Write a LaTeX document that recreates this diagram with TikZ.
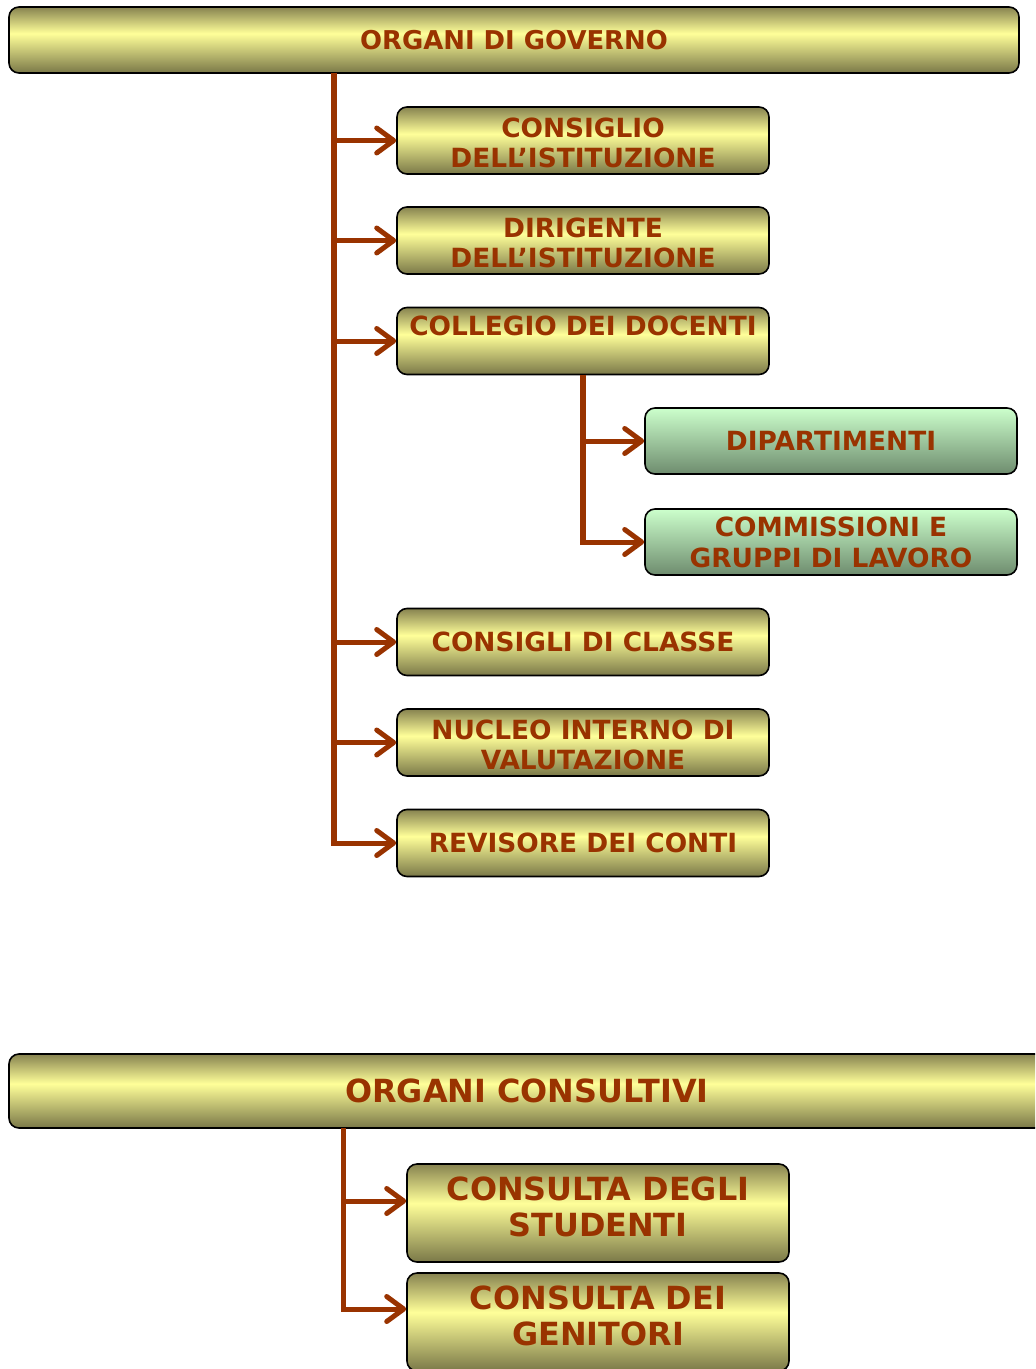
\documentclass[tikz,border=0pt]{standalone}
\usepackage{fontspec}
\setmainfont{DejaVu Sans}
\usetikzlibrary{arrows.meta}
\definecolor{txt}{RGB}{153,51,0}
\definecolor{olvt}{RGB}{135,131,80}
\definecolor{olvb}{RGB}{122,120,72}
\definecolor{ylw}{RGB}{255,255,153}
\definecolor{grtop}{RGB}{204,255,204}
\definecolor{grbot}{RGB}{110,140,110}
\pgfdeclareverticalshading{yshade}{100bp}{color(0bp)=(olvb); color(25bp)=(olvb); color(55bp)=(ylw); color(75bp)=(olvt); color(100bp)=(olvt)}
\tikzset{
  ybox/.style={rectangle, rounded corners=10bp, draw=black, line width=1.6bp,
    shading=yshade, text=txt,
    font=\fontsize{26.5}{30}\selectfont\bfseries, align=center, inner sep=0pt},
  gbox/.style={rectangle, rounded corners=10bp, draw=black, line width=1.6bp,
    top color=grtop, bottom color=grbot, text=txt,
    font=\fontsize{26.5}{31}\selectfont\bfseries, align=center, inner sep=0pt,
    minimum width=372bp, minimum height=66bp},
  sbox/.style={ybox, minimum width=372bp, minimum height=67bp},
  bbox/.style={ybox, font=\fontsize{32}{36}\selectfont\bfseries,
    minimum width=382bp, minimum height=98bp},
  conn/.style={draw=txt, line width=5bp,
    -{Straight Barb[length=17bp,width=25bp,round]}},
  trunk/.style={draw=txt, line width=5.5bp},
}
\begin{document}
\begin{tikzpicture}[x=1bp,y=-1bp]
\useasboundingbox (0,0) rectangle (1035,1369);
\clip (0,0) rectangle (1035,1369);

\node[ybox, font=\fontsize{26}{30}\selectfont\bfseries, minimum width=1010bp, minimum height=66bp] (gov) at (514,40) {ORGANI DI GOVERNO};
\node[sbox] (c1) at (583,140.5) {\mbox{}\\[-5bp]CONSIGLIO\\DELL’ISTITUZIONE};
\node[sbox] (c2) at (583,240.5) {\mbox{}\\[-5bp]DIRIGENTE\\DELL’ISTITUZIONE};
\node[sbox] (col) at (583,341) {COLLEGIO DEI DOCENTI\\\mbox{}};
\node[gbox] (dip) at (831,441) {DIPARTIMENTI};
\node[gbox] (com) at (831,542) {COMMISSIONI E\\GRUPPI DI LAVORO};
\node[sbox] (cla) at (583,642) {CONSIGLI DI CLASSE};
\node[sbox] (nuc) at (583,742.5) {\mbox{}\\[-6bp]NUCLEO INTERNO DI\\VALUTAZIONE};
\node[sbox] (rev) at (583,843) {REVISORE DEI CONTI};

\coordinate (t1) at (334,73);
\draw[trunk] (t1) -- ([yshift=-2.5bp]t1 |- rev.west);
\foreach \n in {c1,c2,col,cla,nuc,rev}
  \draw[conn] (t1) |- (\n.west);
\draw[trunk] (col.south) -- ([yshift=-2.5bp]col.south |- com.west);
\draw[conn] (col.south) |- (dip.west);
\draw[conn] (col.south) |- (com.west);

\node[ybox, font=\fontsize{32}{36}\selectfont\bfseries,
  minimum width=1036bp, minimum height=74bp] (cons) at (527,1091) {ORGANI CONSULTIVI};
\node[bbox] (stu) at (598,1213) {CONSULTA DEGLI\\STUDENTI\\[-24bp]\mbox{}};
\node[bbox] (gen) at (598,1322) {CONSULTA DEI\\GENITORI\\[-24bp]\mbox{}};

\coordinate (t2) at (343,1128);
\draw[conn] (t2) |- ([yshift=12bp]stu.west);
\draw[conn] (t2) |- ([yshift=13bp]gen.west);
\end{tikzpicture}
\end{document}
